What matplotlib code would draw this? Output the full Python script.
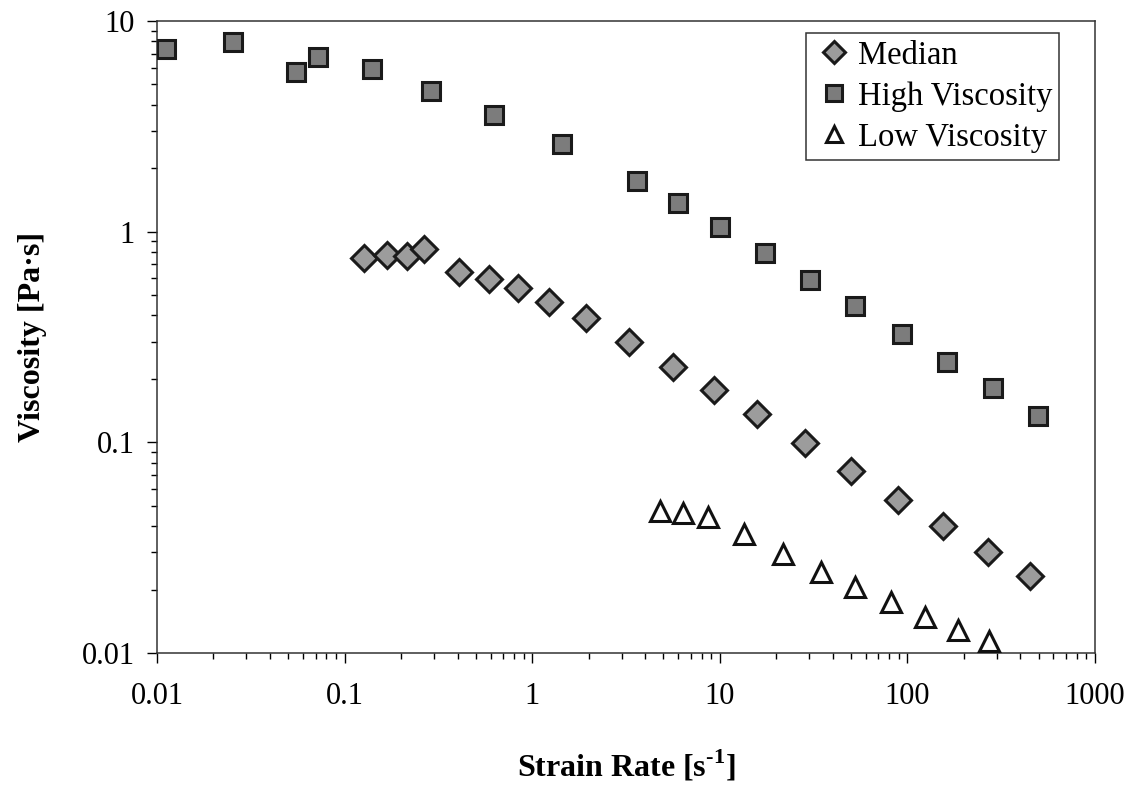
import matplotlib
matplotlib.use("Agg")
import matplotlib.pyplot as plt
from matplotlib.ticker import FixedLocator, FixedFormatter, LogLocator, NullFormatter

# strain rate [1/s] and viscosity [Pa s]
high_rate = [0.0112, 0.0254, 0.0551, 0.0721, 0.140, 0.289, 0.626, 1.44, 3.62,
             5.99, 10.0, 17.4, 30.3, 52.6, 93.6, 163, 286, 497]
high_visc = [7.36, 7.95, 5.73, 6.75, 5.92, 4.65, 3.58, 2.61, 1.74,
             1.37, 1.05, 0.792, 0.590, 0.444, 0.327, 0.241, 0.181, 0.133]

median_rate = [0.127, 0.168, 0.215, 0.265, 0.407, 0.588, 0.840, 1.23, 1.94, 3.28,
               5.63, 9.31, 15.8, 28.4, 50.0, 89.1, 155, 269, 451]
median_visc = [0.750, 0.775, 0.767, 0.828, 0.644, 0.596, 0.541, 0.464, 0.390, 0.300,
               0.228, 0.177, 0.136, 0.0994, 0.0732, 0.0533, 0.0401, 0.0302, 0.0232]

low_rate = [4.80, 6.37, 8.65, 13.5, 21.7, 34.6, 52.6, 81.8, 124, 186, 272]
low_visc = [0.0472, 0.0462, 0.0443, 0.0367, 0.0295, 0.0243, 0.0206, 0.0175,
            0.0148, 0.0129, 0.0114]

x_ticks = [0.01, 0.1, 1, 10, 100, 1000]
x_tick_labels = ["0.01", "0.1", "1", "10", "100", "1000"]
y_ticks = [0.01, 0.1, 1, 10]
y_tick_labels = ["0.01", "0.1", "1", "10"]

plt.rcParams['font.family'] = ['Liberation Serif', 'DejaVu Serif']
plt.rcParams['mathtext.fontset'] = 'custom'
plt.rcParams['mathtext.rm'] = 'Liberation Serif'
plt.rcParams['mathtext.bf'] = 'Liberation Serif:bold'

fig = plt.figure(figsize=(11.39, 7.89), dpi=100)
ax = fig.add_axes([0.1378, 0.1724, 0.8236, 0.801])

ax.plot(median_rate, median_visc, linestyle='none', marker='D', ms=13,
        mfc='#9c9c9c', mec='#1a1a1a', mew=2.2, label='Median', zorder=3)
ax.plot(high_rate, high_visc, linestyle='none', marker='s', ms=13,
        mfc='#7c7c7c', mec='#1a1a1a', mew=2.2, label='High Viscosity', zorder=3)
ax.plot(low_rate, low_visc, linestyle='none', marker='^', ms=14,
        mfc='white', mec='#111111', mew=2.2, label='Low Viscosity', zorder=3)

ax.set_xscale('log')
ax.set_yscale('log')
ax.set_xlim(0.01, 1000)
ax.set_ylim(0.01, 10)

ax.xaxis.set_major_locator(FixedLocator(x_ticks))
ax.xaxis.set_major_formatter(FixedFormatter(x_tick_labels))
ax.yaxis.set_major_locator(FixedLocator(y_ticks))
ax.yaxis.set_major_formatter(FixedFormatter(y_tick_labels))
for axis in (ax.xaxis, ax.yaxis):
    axis.set_minor_locator(LogLocator(base=10, subs=range(2, 10), numticks=20))
    axis.set_minor_formatter(NullFormatter())

ax.tick_params(axis='x', which='major', direction='out', length=7, width=1,
               labelsize=22, pad=14)
ax.tick_params(axis='y', which='major', direction='out', length=7, width=1,
               labelsize=22, pad=9)
ax.tick_params(which='minor', direction='out', length=4.5, width=1)

for sp in ax.spines.values():
    sp.set_linewidth(1.1)
    sp.set_color('#333333')

ax.set_xlabel('Strain Rate [s$^{\\mathbf{\u20101}}$]', fontsize=23, fontweight='bold', labelpad=27)
ax.set_ylabel('Viscosity [Pa\u00b7s]', fontsize=23, fontweight='bold', labelpad=25)

leg = ax.legend(loc='upper left', bbox_to_anchor=(0.692, 0.981), fontsize=23.5,
                frameon=True, fancybox=False, framealpha=1, edgecolor='#333333',
                borderaxespad=0, borderpad=0.22, labelspacing=0.32,
                handlelength=1.26, handletextpad=0.1, markerscale=0.85)
leg.get_frame().set_linewidth(1.1)

fig.savefig('out.png', dpi=100)
